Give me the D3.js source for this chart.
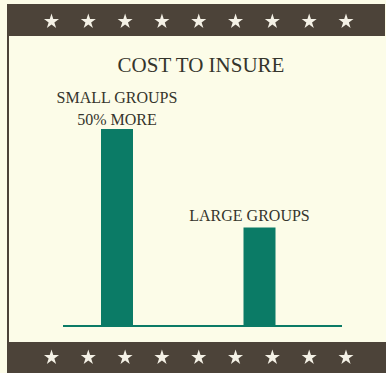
<!DOCTYPE html>
<html>
<head>
<meta charset="utf-8">
<script src="https://cdn.jsdelivr.net/npm/d3@7"></script>
<style>
  html, body { margin: 0; padding: 0; background: #fcfce8; }
  svg { display: block; }
</style>
</head>
<body>
<script>
// Data
const categories = ["SMALL GROUPS", "LARGE GROUPS"];
const costValues = [150, 100];           // small groups cost 50% more
const axisStart = 50;                    // value axis begins above zero
const axisEnd = 150;
const title = "COST TO INSURE";
const barNotes = ["50% MORE", ""];

const W = 386, H = 373;
const bandColor = "#4c4339";
const teal = "#0b7b66";
const ink = "#35352c";
const font = "'Liberation Serif', 'Times New Roman', serif";

const svg = d3.select("body").append("svg")
  .attr("width", W).attr("height", H);

svg.append("rect").attr("width", W).attr("height", H).attr("fill", "#fcfce8");

// Frame: top and bottom bands with a thin left rule
svg.append("rect").attr("x", 7).attr("y", 4).attr("width", W - 8).attr("height", 32).attr("fill", bandColor);
svg.append("rect").attr("x", 7).attr("y", 342).attr("width", W - 7).attr("height", H - 342).attr("fill", bandColor);
svg.append("rect").attr("x", 7).attr("y", 36).attr("width", 2).attr("height", 306).attr("fill", bandColor);

// Stars along each band
const starX = d3.scalePoint().domain(d3.range(9)).range([51.5, 346]);
const star = d3.symbol().type(d3.symbolStar).size(70);
[21.5, 357.5].forEach(cy => {
  svg.append("g").selectAll("path").data(d3.range(9)).join("path")
    .attr("d", star)
    .attr("transform", i => `translate(${starX(i)},${cy})`)
    .attr("fill", "#f4f1e6");
});

// Scales
const x = d3.scalePoint().domain(categories).range([117, 259.5]);
const y = d3.scaleLinear().domain([axisStart, axisEnd]).range([326, 129]);
const barW = 32;

// Title
svg.append("text")
  .attr("x", 201).attr("y", 72)
  .attr("text-anchor", "middle")
  .attr("font-family", font).attr("font-size", 21)
  .attr("fill", ink)
  .text(title);

// Bars
svg.append("g").selectAll("rect").data(categories).join("rect")
  .attr("x", d => x(d) - barW / 2)
  .attr("y", (d, i) => y(costValues[i]))
  .attr("width", barW)
  .attr("height", (d, i) => y(axisStart) - y(costValues[i]))
  .attr("fill", teal);

// Baseline
svg.append("line")
  .attr("x1", 63).attr("x2", 342)
  .attr("y1", y(axisStart)).attr("y2", y(axisStart))
  .attr("stroke", teal).attr("stroke-width", 2.2);

// Category labels above bars
const labelOffsets = [0, -10];
categories.forEach((c, i) => {
  const top = y(costValues[i]);
  const g = svg.append("text")
    .attr("text-anchor", "middle")
    .attr("font-family", font).attr("font-size", 16)
    .attr("fill", ink);
  if (barNotes[i]) {
    g.append("tspan").attr("x", x(c) + labelOffsets[i]).attr("y", top - 26).text(c);
    g.append("tspan").attr("x", x(c) + labelOffsets[i]).attr("y", top - 4).text(barNotes[i]);
  } else {
    g.append("tspan").attr("x", x(c) + labelOffsets[i]).attr("y", top - 7).text(c);
  }
});
</script>
</body>
</html>
